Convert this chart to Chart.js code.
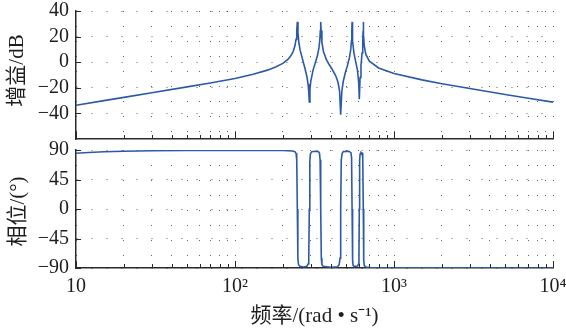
<!DOCTYPE html>
<html>
<head>
<meta charset="utf-8">
<script src="https://cdn.jsdelivr.net/npm/chart.js@4/dist/chart.umd.min.js"></script>
<style>
  html, body { margin: 0; padding: 0; background: #fff; }
  #wrap { position: relative; width: 566px; height: 330px; overflow: hidden; }
  #wrap canvas { position: absolute; left: 0; }
</style>
</head>
<body>
<div id="wrap">
  <canvas id="gain" width="566" height="150" style="top:0"></canvas>
  <canvas id="phase" width="566" height="190" style="top:140px"></canvas>
</div>
<script>
// Frequency response samples (rad/s)
const magFreq = [10, 15, 20, 30, 50, 70, 100, 130, 160, 180,
  200, 215, 225, 232, 238, 242, 244.5, 246.6, 249, 252,
  257, 265, 275, 283, 288, 291, 293.3, 296, 300, 310,
  320, 330, 337, 341, 344, 346, 348, 352, 360, 375,
  390, 410, 430, 445, 455, 462, 470, 480, 495, 510,
  525, 535, 540, 543, 545, 547, 550, 560, 575, 590,
  600, 605, 612, 620, 630, 636, 639, 641, 644, 650,
  665, 700, 800, 1000, 1500, 2000, 3000, 5000, 7000, 10000];
// Gain in dB
const magDb = [-33.6, -30.0, -27.5, -23.9, -19.3, -16.2, -12.8, -9.4, -6.2, -3.8,
  -0.9, 2.2, 5.2, 8.3, 12.6, 17.8, 24.4, 31.5, 22.9, 15.5,
  9.2, 3.0, -4.5, -11, -17, -23, -31, -21, -14.5, -6.0,
  -0.5, 5.2, 10.9, 16.4, 24.5, 31.5, 24.8, 15.4, 8.4, 2.2,
  -1.6, -5.9, -10.6, -15.9, -23, -41, -22.7, -14.7, -7.9, -2.5,
  3.8, 10.4, 16.6, 24.6, 31.5, 24.4, 16.8, 7.1, 0.1, -6.7,
  -16.3, -29, -12, -2.5, 7.2, 15.6, 24.3, 31.5, 21.7, 13.0,
  6.1, 0.8, -4.5, -8.8, -13.8, -16.8, -20.6, -25.2, -28.1, -31.2];

const phaseFreq = [10, 12, 15, 20, 30, 50, 100, 200, 230, 238,
  242, 244.5, 246.6, 248.5, 251, 256, 270, 283, 288, 291,
  293.3, 295.5, 298, 304, 320, 335, 340, 343, 346, 349,
  352, 358, 400, 440, 452, 458, 462, 466, 472, 480,
  520, 536, 541, 545, 549, 553, 560, 590, 598, 602,
  605, 608, 612, 620, 630, 636, 641, 645, 650, 665,
  700, 1000, 3000, 10000];
// Phase in degrees
const phaseDeg = [85, 86.3, 87.4, 88.2, 88.8, 89.2, 89.4, 89.2, 88.5, 87.5,
  85, 75, 0, -75, -85, -87.5, -88.5, -87.5, -84, -72,
  0, 72, 84, 87.5, 88, 87.5, 85, 75, 0, -75,
  -85, -87.5, -88.8, -88, -85, -75, 0, 75, 85, 87.5,
  88, 86, 78, 0, -78, -86, -87.5, -87, -84, -74,
  0, 74, 84, 86.5, 85.5, 78, 0, -78, -86, -88.5,
  -89.2, -89.6, -89.8, -89.9];

// Axis ticks and labels
const xMajor = [10, 100, 1000, 10000];
const xMajorLabels = ['10', '10²', '10³', '10⁴'];
const magTicks = [-40, -20, 0, 20, 40];
const phaseTicks = [-90, -45, 0, 45, 90];
const gainTitle = '增益/dB';
const phaseTitle = '相位/(°)';
const freqTitle = '频率/(rad • s⁻¹)';

// Decade ticks plus the 2..9 minor ticks inside each decade
const xTicks = [];
xMajor.forEach((d, i) => {
  xTicks.push(d);
  if (i < xMajor.length - 1) for (let m = 2; m <= 9; m++) xTicks.push(d * m);
});

const SERIF = '"Liberation Serif", "Times New Roman", "Noto Sans CJK SC", serif';
const TEXT = '#1e1e1e';
const AXIS = '#2a2a2a';
const GRID = 'rgba(30,30,30,0.7)';
const LINE = '#2c5aa8';

const minus = v => (v < 0 ? '\u2212' + Math.abs(v) : String(v));

// Short tick marks pointing into the plot area
const inwardTicks = {
  id: 'inwardTicks',
  afterDraw(chart) {
    const { ctx, chartArea: a, scales: { x, y } } = chart;
    ctx.save();
    ctx.strokeStyle = AXIS;
    ctx.lineWidth = 1;
    x.ticks.forEach(t => {
      const px = Math.round(x.getPixelForValue(t.value)) + 0.5;
      const len = xMajor.includes(t.value) ? 7 : 4;
      ctx.beginPath();
      ctx.moveTo(px, a.bottom);
      ctx.lineTo(px, a.bottom - len);
      ctx.stroke();
    });
    y.ticks.forEach(t => {
      const py = Math.round(y.getPixelForValue(t.value)) + 0.5;
      ctx.beginPath();
      ctx.moveTo(a.left, py);
      ctx.lineTo(a.left + 5, py);
      ctx.stroke();
    });
    ctx.restore();
  }
};

// Rotated y-axis caption
const sideTitle = {
  id: 'sideTitle',
  afterDraw(chart, args, opts) {
    const ctx = chart.ctx;
    ctx.save();
    ctx.translate(opts.x, opts.y);
    ctx.rotate(-Math.PI / 2);
    ctx.font = '21px ' + SERIF;
    ctx.fillStyle = TEXT;
    ctx.textAlign = 'center';
    ctx.textBaseline = 'middle';
    ctx.fillText(opts.text, 0, 0);
    ctx.restore();
  }
};

function xScale(showLabels) {
  return {
    type: 'logarithmic',
    min: 10,
    max: 10000,
    afterBuildTicks: s => { s.ticks = xTicks.map(v => ({ value: v })); },
    grid: { color: GRID, lineWidth: 1, drawTicks: false },
    border: { display: true, color: AXIS, width: 1.5, dash: [1, 14] },
    ticks: showLabels ? {
      autoSkip: false, maxRotation: 0, minRotation: 0, padding: 9,
      color: TEXT, font: { family: SERIF, size: 20, lineHeight: 1 },
      callback: v => { const i = xMajor.indexOf(v); return i >= 0 ? xMajorLabels[i] : ''; }
    } : { display: false },
    title: showLabels ? {
      display: true, text: freqTitle, color: TEXT,
      font: { family: SERIF, size: 21, lineHeight: 1.2 },
      padding: { top: 0, bottom: 1 }
    } : { display: false },
    afterFit: s => {
      s.height = showLabels ? 62 : 11;
      s.paddingLeft = 0;
      s.paddingRight = 0;
    }
  };
}

function yScale(min, max, ticks) {
  return {
    min, max,
    afterBuildTicks: s => { s.ticks = ticks.map(v => ({ value: v })); },
    grid: { color: GRID, lineWidth: 1, drawTicks: false },
    border: { display: true, color: AXIS, width: 1.5, dash: [1, 14] },
    ticks: {
      padding: 7, color: TEXT,
      font: { family: SERIF, size: 20, lineHeight: 1 },
      callback: v => minus(v)
    },
    afterFit: s => {
      s.width = 76;
      s.paddingTop = 0;
      s.paddingBottom = 0;
    }
  };
}

function lineSet(xs, ys) {
  return {
    data: xs.map((w, i) => ({ x: w, y: ys[i] })),
    borderColor: LINE,
    borderWidth: 1.6,
    pointRadius: 0,
    tension: 0,
    fill: false
  };
}

const common = {
  responsive: false,
  animation: false,
  events: [],
  plugins: { legend: { display: false }, tooltip: { enabled: false } }
};

new Chart(document.getElementById('gain'), {
  type: 'line',
  data: { datasets: [lineSet(magFreq, magDb)] },
  options: {
    ...common,
    layout: { padding: { left: 0, right: 13, top: 11, bottom: 0 } },
    plugins: { ...common.plugins, sideTitle: { text: gainTitle, x: 17, y: 70.5 } },
    scales: { x: xScale(false), y: yScale(-60, 40, magTicks) }
  },
  plugins: [inwardTicks, sideTitle]
});

new Chart(document.getElementById('phase'), {
  type: 'line',
  data: { datasets: [lineSet(phaseFreq, phaseDeg)] },
  options: {
    ...common,
    layout: { padding: { left: 0, right: 13, top: 10, bottom: 0 } },
    plugins: { ...common.plugins, sideTitle: { text: phaseTitle, x: 18, y: 71.5 } },
    scales: { x: xScale(true), y: yScale(-90, 90, phaseTicks) }
  },
  plugins: [inwardTicks, sideTitle]
});
</script>
</body>
</html>
